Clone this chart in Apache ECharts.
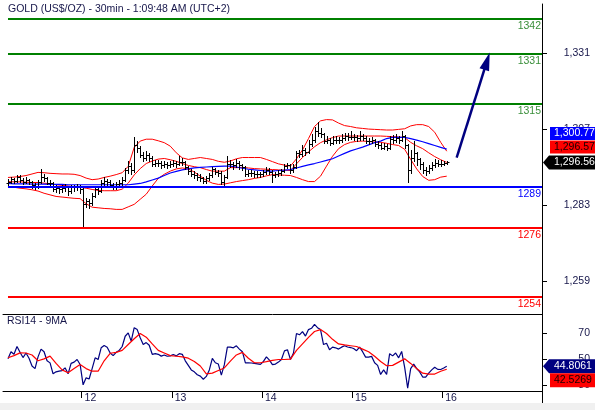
<!DOCTYPE html>
<html><head><meta charset="utf-8">
<script src="https://cdn.jsdelivr.net/npm/echarts@6/dist/echarts.min.js"></script>
<style>html,body{margin:0;padding:0;background:#fff}#c{width:595px;height:410px}</style>
</head><body><div id="c"></div>
<script>
const titleText = 'GOLD (US$/OZ) - 30min - 1:09:48 AM (UTC+2)';
const rsiTitle = 'RSI14 - 9MA';

const openP = [
1290.0,1290.5,1291.2,1290.8,1291.8,1291.0,1290.4,1291.0,1290.3,1289.3,
1289.0,1290.5,1292.0,1291.5,1290.2,1290.0,1288.2,1288.5,1288.3,1288.5,
1288.8,1287.5,1288.8,1288.7,1289.0,1288.0,1283.5,1284.5,1283.8,1286.0,
1288.0,1287.6,1290.0,1290.8,1290.3,1289.5,1289.0,1289.6,1290.0,1291.0,
1294.0,1295.5,1294.0,1302.0,1301.0,1299.0,1298.0,1298.8,1298.0,1296.2,
1296.5,1296.3,1295.8,1296.2,1295.8,1296.0,1296.4,1296.0,1296.8,1296.6,
1295.0,1293.8,1293.0,1292.6,1292.0,1291.6,1290.8,1291.5,1292.5,1294.5,
1293.6,1293.3,1290.5,1292.0,1296.2,1296.0,1295.8,1296.3,1295.6,1295.0,
1293.0,1293.2,1293.1,1293.0,1292.9,1292.8,1293.4,1294.3,1293.6,1292.6,
1292.8,1293.2,1293.8,1295.3,1295.6,1294.0,1295.2,1299.5,1299.2,1300.5,
1300.0,1302.5,1303.5,1306.5,1306.0,1305.5,1303.2,1303.6,1302.8,1303.8,
1303.6,1303.5,1304.2,1304.8,1304.6,1304.6,1304.5,1304.2,1305.0,1304.3,
1303.3,1303.3,1303.5,1302.5,1302.0,1301.0,1301.8,1301.2,1304.0,1303.7,
1304.3,1303.6,1304.8,1302.0,1294.0,1298.0,1299.5,1297.5,1296.0,1294.0,
1293.8,1294.8,1295.6,1296.4,1296.0,1296.0,1296.4];
const highP = [
1291.3,1291.9,1291.6,1292.5,1292.7,1291.5,1291.8,1291.4,1290.8,1289.9,
1291.0,1294.6,1292.8,1291.9,1290.9,1290.4,1289.3,1289.1,1289.4,1289.6,
1289.2,1289.5,1289.4,1289.7,1289.4,1288.6,1285.3,1284.9,1286.8,1288.6,
1288.8,1290.9,1292.0,1291.4,1290.9,1290.2,1290.4,1291.0,1292.0,1294.8,
1297.0,1296.5,1304.5,1303.3,1301.8,1300.0,1300.2,1299.5,1298.5,1297.4,
1297.3,1296.9,1297.0,1296.8,1296.9,1297.2,1297.0,1298.5,1297.8,1297.0,
1295.5,1294.5,1293.8,1293.2,1292.8,1292.0,1292.3,1293.3,1295.2,1294.9,
1294.2,1293.7,1292.6,1298.5,1297.4,1296.8,1297.5,1296.9,1296.2,1295.4,
1294.0,1294.0,1293.8,1293.7,1293.6,1294.2,1295.0,1294.7,1294.0,1293.6,
1294.0,1294.6,1296.0,1296.4,1296.0,1296.2,1300.2,1300.6,1302.0,1301.2,
1303.6,1305.5,1307.8,1309.2,1307.5,1306.0,1305.0,1304.4,1305.0,1304.8,
1304.6,1305.4,1306.0,1305.9,1306.5,1305.6,1305.3,1306.4,1305.6,1304.8,
1304.2,1304.6,1304.0,1303.2,1302.6,1302.8,1302.4,1305.0,1305.2,1305.6,
1304.9,1306.4,1305.2,1302.5,1300.5,1303.2,1300.0,1298.0,1296.6,1295.0,
1295.8,1296.8,1297.6,1297.4,1297.2,1297.0,1297.0];
const lowP = [
1289.4,1290.0,1290.1,1290.4,1290.5,1289.6,1289.9,1289.7,1288.6,1288.0,
1288.6,1290.2,1290.8,1289.6,1289.2,1287.6,1287.2,1286.8,1287.3,1287.6,
1286.3,1286.9,1287.5,1287.9,1287.0,1276.2,1282.4,1282.0,1283.2,1285.5,
1286.5,1287.2,1289.4,1289.5,1288.7,1288.1,1288.3,1288.8,1289.4,1290.6,
1293.3,1293.0,1293.6,1299.8,1298.2,1297.0,1297.4,1297.0,1295.5,1295.3,
1295.4,1294.8,1295.0,1294.9,1295.0,1295.3,1295.2,1295.6,1295.7,1294.4,
1293.0,1292.2,1291.6,1291.0,1290.6,1290.0,1290.2,1291.0,1292.0,1292.8,
1292.2,1289.8,1288.9,1291.6,1295.0,1294.6,1295.0,1294.6,1294.1,1292.3,
1292.3,1292.2,1292.1,1292.0,1292.0,1292.3,1292.9,1292.8,1290.5,1291.8,
1292.2,1292.7,1293.4,1294.7,1293.3,1293.6,1294.8,1298.4,1298.7,1299.0,
1299.6,1301.8,1303.0,1305.0,1304.6,1302.8,1302.6,1302.0,1302.4,1302.8,
1302.6,1303.0,1303.7,1303.8,1303.9,1303.6,1303.3,1303.8,1303.5,1302.7,
1302.5,1302.6,1301.8,1301.2,1300.7,1300.8,1300.6,1300.9,1302.8,1303.0,
1302.6,1303.2,1301.0,1290.5,1293.2,1297.0,1295.6,1294.6,1293.2,1292.7,
1293.2,1294.2,1295.0,1295.3,1295.4,1295.6,1295.9];
const closeP = [
1290.5,1291.2,1290.8,1291.8,1291.0,1290.4,1291.0,1290.3,1289.3,1289.0,
1290.5,1292.0,1291.5,1290.2,1290.0,1288.2,1288.5,1288.3,1288.5,1288.8,
1287.5,1288.8,1288.7,1289.0,1288.0,1283.5,1284.5,1283.8,1286.0,1288.0,
1287.6,1290.0,1290.8,1290.3,1289.5,1289.0,1289.6,1290.0,1291.0,1294.0,
1295.5,1294.0,1302.0,1301.0,1299.0,1298.0,1298.8,1298.0,1296.2,1296.5,
1296.3,1295.8,1296.2,1295.8,1296.0,1296.4,1296.0,1296.8,1296.6,1295.0,
1293.8,1293.0,1292.6,1292.0,1291.6,1290.8,1291.5,1292.5,1294.5,1293.6,
1293.3,1290.5,1292.0,1296.2,1296.0,1295.8,1296.3,1295.6,1295.0,1293.0,
1293.2,1293.1,1293.0,1292.9,1292.8,1293.4,1294.3,1293.6,1292.6,1292.8,
1293.2,1293.8,1295.3,1295.6,1294.0,1295.2,1299.5,1299.2,1300.5,1300.0,
1302.5,1303.5,1306.5,1306.0,1305.5,1303.2,1303.6,1302.8,1303.8,1303.6,
1303.5,1304.2,1304.8,1304.6,1304.6,1304.5,1304.2,1305.0,1304.3,1303.3,
1303.3,1303.5,1302.5,1302.0,1301.0,1301.8,1301.2,1304.0,1303.7,1304.3,
1303.6,1304.8,1302.0,1294.0,1298.0,1299.5,1297.5,1296.0,1294.0,1293.8,
1294.8,1295.6,1296.4,1296.0,1296.0,1296.4,1296.56];

// indicator lines, one value every BAND_STEP bars
const BAND_STEP = 2;
const bandUpper = [
1291.8,1291.9,1292.1,1292.4,1292.9,1293.4,1293.3,1293.1,1293.0,1292.9,
1292.9,1292.8,1292.4,1291.6,1291.1,1291.3,1291.8,1292.2,1292.7,1293.3,
1295.3,1301.3,1303.3,1303.9,1303.9,1303.4,1302.8,1301.7,1299.6,1298.0,
1297.5,1297.8,1298.1,1297.8,1297.5,1296.9,1296.6,1297.0,1297.7,1298.1,
1298.1,1298.1,1298.1,1297.5,1296.8,1296.1,1295.7,1295.4,1297.7,1300.5,
1304.1,1307.9,1309.7,1310.1,1310.0,1309.0,1308.2,1307.9,1307.5,1307.3,
1307.1,1307.0,1306.9,1306.8,1306.8,1307.0,1307.2,1308.1,1308.5,1308.5,
1307.9,1306.1,1302.9,1300.1];
const bandMiddle = [
1290.5,1290.4,1290.4,1290.3,1290.2,1290.2,1290.0,1289.8,1289.5,1289.3,
1289.1,1288.9,1288.7,1288.4,1288.0,1287.7,1287.6,1287.6,1287.6,1288.1,
1290.0,1292.6,1294.6,1296.2,1297.0,1297.6,1297.8,1297.4,1296.9,1296.2,
1295.6,1295.2,1294.9,1294.3,1293.8,1293.8,1293.8,1294.9,1294.9,1295.0,
1294.8,1294.6,1294.5,1294.4,1294.3,1294.2,1294.1,1294.0,1296.1,1298.1,
1299.9,1301.5,1302.8,1303.7,1304.4,1304.9,1304.9,1304.9,1304.9,1304.9,
1304.9,1304.9,1304.9,1304.8,1304.7,1304.6,1304.4,1302.9,1301.8,1300.9,
1299.6,1298.4,1297.4,1296.57];
const bandLower = [
1288.9,1288.7,1288.4,1288.2,1287.9,1287.5,1286.8,1286.3,1285.8,1285.6,
1285.4,1285.2,1285.1,1283.5,1282.4,1282.2,1282.0,1281.9,1281.7,1281.7,
1282.5,1283.3,1284.9,1286.5,1289.1,1291.5,1292.8,1293.8,1294.5,1294.8,
1294.5,1293.5,1292.2,1290.9,1290.0,1289.6,1289.7,1290.1,1290.5,1290.8,
1291.1,1291.5,1291.8,1292.3,1292.7,1292.6,1292.5,1292.4,1291.8,1291.1,
1290.5,1290.5,1292.2,1295.4,1298.5,1300.9,1302.2,1302.9,1303.2,1303.3,
1303.2,1303.0,1302.9,1302.6,1302.2,1301.9,1300.7,1297.5,1294.5,1292.1,
1290.9,1291.1,1291.9,1292.2];
const maLong = [
1289.9,1289.8,1289.8,1289.8,1289.7,1289.7,1289.7,1289.6,1289.6,1289.6,
1289.5,1289.5,1289.5,1289.5,1289.5,1289.5,1289.5,1289.5,1289.5,1289.5,
1289.5,1289.7,1289.9,1290.4,1291.0,1291.6,1292.4,1293.2,1293.7,1294.2,
1294.5,1294.8,1295.0,1295.1,1295.2,1295.3,1295.4,1295.4,1295.1,1294.7,
1294.4,1294.2,1294.0,1293.8,1293.8,1294.0,1294.1,1294.3,1294.8,1295.3,
1295.8,1296.2,1296.7,1297.2,1297.7,1298.6,1299.4,1300.2,1300.8,1301.4,
1302.1,1302.8,1303.3,1304.1,1304.5,1304.5,1304.5,1304.1,1303.6,1303.1,
1302.5,1301.9,1301.3,1300.77];

const rsi = [
50.5,56,54,60,55.6,51.5,55,51,45,43,
52,58,56,49,47.4,39,40.5,41,41.5,43.6,
39,47,48,50,46.2,30.5,35.9,35,43,51.3,
50,59,60.8,59.5,55,53,55.5,57,60,67.9,
70.5,64.1,74.5,73,66.7,61.5,63,61,54,54.5,
54,52.6,53.5,52.5,52.8,53.8,52.8,54.5,54,49,
45.5,42,40.5,38.3,37.2,34.8,37,42,50.8,47.5,
46.5,38,46,59.5,59.5,59,60.5,58,56,47.4,
47.5,47.3,47,46.6,46.2,48.5,52,49.5,46,46.5,
48,50,56.6,57.5,50,55,70,69,71.5,68,
73,74,77,74.5,73,61.5,62.5,57.5,59.5,59,
58,59.5,60.6,59.6,59.2,58.5,56.8,59.5,56,51.8,
51.8,52.4,47.5,45.5,38.5,42,38.6,54.5,52.8,55,
51.3,56.2,44,28,43,46.5,43,40.5,36.5,36.5,
39.5,42,44,42.4,42.3,43.5,44.8061];
const rsiMA = [
51.3,53,55.1,55,53.5,49,50.5,52.6,47,42,
39.8,43,46.2,43,41,41,49,54.8,55.5,57,
61.5,66,70,67.2,62,57,55,53,52.5,52,
51,48.5,45,39,39.5,41.5,43.5,48.7,53.5,55.5,
51,47.5,47.5,48.3,49.3,50,50,50.3,57,62,
67,71.5,73,70,65.5,62,61.2,60.6,60,58,
56,52.5,48.5,45.2,45.5,48,50.5,47,43,39.5,
38.8,38.8,41,42.5269];

const levelsGreen = [1342, 1331, 1315];
const levelsBlue = [1289];
const levelsRed = [1276, 1254];
const priceTicks = [1259, 1283, 1307, 1331];
const rsiTicks = [30, 50, 70];
const dayTicks = [24.5, 54.5, 84.5, 114.5, 144.5];
const dayLabels = ['12', '13', '14', '15', '16'];
const arrowPath = [[149.3, 1298.05], [159.4, 1328.6]];
const lastMA = 1300.77, lastMid = 1296.57, lastClose = 1296.56;
const lastRsi = 44.8061, lastRsiMA = 42.5269;

const xMin = -1.66, xMax = 177.7;
const FONT = '"Liberation Sans", Arial, sans-serif';
const TXT = '#16164a';

const chart = echarts.init(document.getElementById('c'), null, {renderer: 'canvas'});

function levelLine(v, lineColor, labelColor) {
  return [
    {coord: [0, v], lineStyle: {color: lineColor, width: 2, type: 'solid'},
     label: {show: true, position: 'insideEndBottom', formatter: String(v), color: labelColor,
             fontSize: 10.5, fontFamily: FONT, distance: [1, 2]}},
    {coord: [xMax, v]}
  ];
}
const levelData = []
  .concat(levelsGreen.map(v => levelLine(v, '#008000', '#3a8f3a')))
  .concat(levelsBlue.map(v => levelLine(v, '#0000ff', '#0000ff')))
  .concat(levelsRed.map(v => levelLine(v, '#ff0000', '#ff0000')));

const stepData = arr => arr.map((v, k) => [k * BAND_STEP, v]);
const fmt = v => Number(v).toLocaleString('en-US');
const dayFmt = v => { const k = dayTicks.findIndex(t => Math.abs(t - v) < 0.01); return k >= 0 ? dayLabels[k] : ''; };

const option = {
  animation: false,
  backgroundColor: '#ffffff',
  textStyle: {fontFamily: FONT},
  title: [
    {text: titleText, left: 8, top: 4, padding: 0, textStyle: {fontSize: 10.5, fontWeight: 'normal', color: TXT, fontFamily: FONT}},
    {text: rsiTitle, left: 7, top: 316, padding: 0, textStyle: {fontSize: 10.5, fontWeight: 'normal', color: TXT, fontFamily: FONT}}
  ],
  grid: [
    {left: 3, width: 539, top: 4, height: 310},
    {left: 3, width: 539, top: 314, height: 77}
  ],
  xAxis: [
    {gridIndex: 0, type: 'value', min: xMin, max: xMax,
     axisLine: {show: true, onZero: false, lineStyle: {color: '#000', width: 1}}, axisTick: {show: false},
     axisLabel: {show: false}, splitLine: {show: false}},
    {gridIndex: 1, type: 'value', min: xMin, max: xMax,
     axisLine: {show: true, onZero: false, lineStyle: {color: '#000', width: 1}},
     axisTick: {show: true, length: 7, customValues: dayTicks, lineStyle: {color: '#000'}},
     axisLabel: {show: true, customValues: dayTicks, formatter: dayFmt, align: 'left',
                 padding: [0, 0, 0, 3], margin: 2, fontSize: 10.5, color: TXT, fontFamily: FONT},
     splitLine: {show: false}}
  ],
  yAxis: [
    {gridIndex: 0, type: 'value', position: 'right', min: 1248.62, max: 1346.65,
     axisLine: {show: true, onZero: false, lineStyle: {color: '#000', width: 1}},
     axisTick: {show: true, length: 5, customValues: priceTicks, lineStyle: {color: '#000'}},
     axisLabel: {show: true, customValues: priceTicks, formatter: fmt, align: 'right', margin: 48,
                 fontSize: 10.5, color: TXT, fontFamily: FONT},
     splitLine: {show: false}},
    {gridIndex: 1, type: 'value', position: 'right', min: 25.77, max: 85,
     axisLine: {show: true, onZero: false, lineStyle: {color: '#000', width: 1}},
     axisTick: {show: true, length: 5, customValues: rsiTicks, lineStyle: {color: '#000'}},
     axisLabel: {show: true, customValues: rsiTicks, formatter: v => String(v), align: 'right', margin: 48,
                 fontSize: 10.5, color: TXT, fontFamily: FONT},
     splitLine: {show: false}}
  ],
  series: [
    {name: 'levels', type: 'line', xAxisIndex: 0, yAxisIndex: 0, data: [], silent: true,
     markLine: {silent: true, symbol: ['none', 'none'], animation: false, data: levelData}},
    {name: 'upper', type: 'line', xAxisIndex: 0, yAxisIndex: 0, data: stepData(bandUpper),
     showSymbol: false, lineStyle: {color: '#ff0000', width: 1}, z: 3, silent: true},
    {name: 'middle', type: 'line', xAxisIndex: 0, yAxisIndex: 0, data: stepData(bandMiddle),
     showSymbol: false, lineStyle: {color: '#ff0000', width: 1}, z: 3, silent: true},
    {name: 'lower', type: 'line', xAxisIndex: 0, yAxisIndex: 0, data: stepData(bandLower),
     showSymbol: false, lineStyle: {color: '#ff0000', width: 1}, z: 3, silent: true},
    {name: 'ma', type: 'line', xAxisIndex: 0, yAxisIndex: 0, data: stepData(maLong),
     showSymbol: false, lineStyle: {color: '#0000ff', width: 1.2}, z: 3, silent: true},
    {name: 'bars', type: 'custom', xAxisIndex: 0, yAxisIndex: 0, z: 4, silent: true,
     data: closeP.map((c, i) => [i, openP[i], highP[i], lowP[i], c]),
     encode: {x: 0, y: [1, 2, 3, 4]},
     renderItem: function (params, api) {
       const i = api.value(0);
       const pO = api.coord([i, api.value(1)]);
       const pH = api.coord([i, api.value(2)]);
       const pL = api.coord([i, api.value(3)]);
       const pC = api.coord([i, api.value(4)]);
       const x = Math.round(pO[0]) + 0.5;
       const yo = Math.round(pO[1]) + 0.5, yc = Math.round(pC[1]) + 0.5;
       const st = {stroke: '#000', lineWidth: 1};
       return {type: 'group', children: [
         {type: 'line', shape: {x1: x, y1: Math.round(pH[1]), x2: x, y2: Math.round(pL[1]) + 1}, style: st},
         {type: 'line', shape: {x1: x - 2, y1: yo, x2: x, y2: yo}, style: st},
         {type: 'line', shape: {x1: x, y1: yc, x2: x + 2, y2: yc}, style: st}
       ]};
     }},
    {name: 'arrow', type: 'line', xAxisIndex: 0, yAxisIndex: 0, data: [], silent: true,
     markLine: {silent: true, symbol: ['none', 'triangle'], symbolSize: [10, 18], animation: false,
       label: {show: false},
       data: [[{coord: arrowPath[0], lineStyle: {color: '#000080', width: 2.5, type: 'solid'}},
               {coord: arrowPath[1]}]]}},
    {name: 'rsi', type: 'line', xAxisIndex: 1, yAxisIndex: 1, data: rsi.map((v, i) => [i, v]),
     showSymbol: false, lineStyle: {color: '#000080', width: 1.2}, z: 3, silent: true},
    {name: 'rsiMA', type: 'line', xAxisIndex: 1, yAxisIndex: 1, data: stepData(rsiMA),
     showSymbol: false, lineStyle: {color: '#ff0000', width: 1.2}, z: 4, silent: true}
  ]
};
chart.setOption(option);

// value tags on the right axis, placed with the library's own scales
const ax = chart.convertToPixel({xAxisIndex: 0}, xMax);
const yLast = chart.convertToPixel({yAxisIndex: 0}, lastClose);
const yR = chart.convertToPixel({yAxisIndex: 1}, lastRsi);
const tagFont = '10.5px "Liberation Sans", Arial, sans-serif';
function arrowTag(y, fill, text, color) {
  return [
    {type: 'polygon', z: 100, shape: {points: [[ax + 1, y], [ax + 7, y - 7], [595, y - 7], [595, y + 7], [ax + 7, y + 7]]}, style: {fill: fill}},
    {type: 'text', z: 101, x: ax + 12, y: y, style: {text: text, fill: color, font: tagFont, verticalAlign: 'middle'}}
  ];
}
function boxTag(y0, h, fill, text, color) {
  return [
    {type: 'rect', z: 100, shape: {x: ax + 8, y: y0, width: 60, height: h}, style: {fill: fill}},
    {type: 'text', z: 101, x: ax + 12, y: y0 + h / 2, style: {text: text, fill: color, font: tagFont, verticalAlign: 'middle'}}
  ];
}
const g = [].concat(
  [{type: 'rect', z: 0, shape: {x: 0, y: 403, width: 595, height: 7}, style: {fill: '#f0f0f0'}},
   {type: 'line', z: 50, shape: {x1: Math.round(ax) + 0.5, y1: 391, x2: Math.round(ax) + 0.5, y2: 403}, style: {stroke: '#000', lineWidth: 1}}],
  boxTag(yLast - 35.3, 13, '#0000ff', fmt(lastMA), '#ffffff'),
  boxTag(yLast - 22, 13, '#ff0000', fmt(lastMid), '#1a0000'),
  arrowTag(yLast, '#000000', fmt(lastClose), '#ffffff'),
  arrowTag(yR, '#000080', String(lastRsi), '#ffffff'),
  boxTag(yR + 7, 14, '#ff0000', String(lastRsiMA), '#1a0000')
);
chart.setOption({graphic: g});
</script>
</body></html>
